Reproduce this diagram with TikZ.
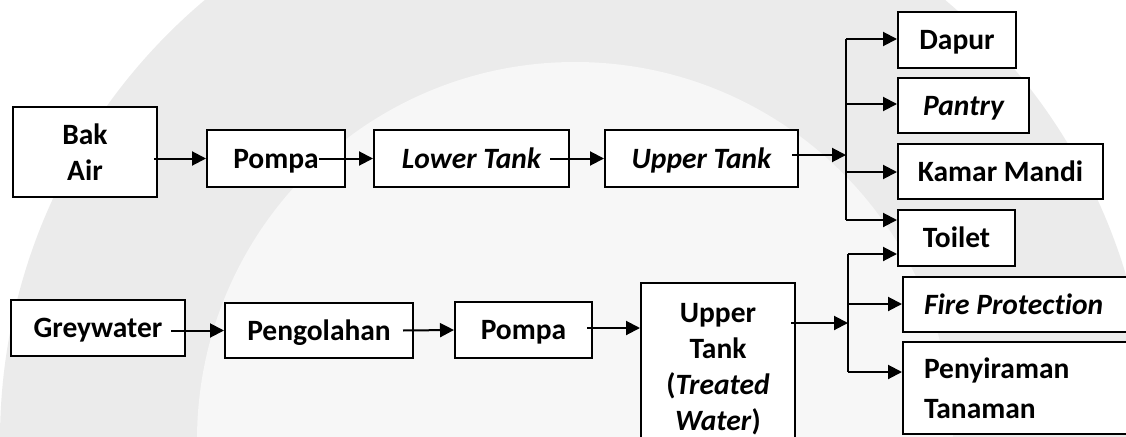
\documentclass[tikz,border=0pt]{standalone}
\usepackage{fontspec}
\setmainfont{Carlito}[RawFeature=-liga]
\usetikzlibrary{arrows.meta,calc}
\begin{document}
\begin{tikzpicture}[x=1pt,y=-1pt,
  box/.style={draw,line width=2pt,fill=white,inner sep=0pt,
    font=\fontsize{29.5}{36}\selectfont\bfseries,align=center},
  single/.style={text height=19pt,text depth=0pt},
  leftbox/.style={box,align=left,inner xsep=21pt,inner ysep=0pt,text width=196pt},
  arr/.style={line width=2pt,-{Triangle[length=14pt,width=14pt]}},
  bus/.style={line width=2pt}]
\useasboundingbox (0,0) rectangle (1126,436);
\clip (0,0) rectangle (1126,436);
% faint emblem ring in the background
\fill[black!8] (575,440) circle (575pt);
\fill[black!3] (575,440) circle (378pt);

% clean water chain
\node[box,minimum width=144pt,minimum height=90pt] (bak) at (85,152) {Bak\\Air};
\node[box,single,minimum width=138pt,minimum height=57pt] (pompa1) at (276,158.5) {Pompa};
\node[box,single,minimum width=195pt,minimum height=57pt] (lower) at (471.5,158.5) {\itshape Lower Tank};
\node[box,single,minimum width=193pt,minimum height=57pt] (upper) at (701.5,158.5) {\itshape Upper Tank};

\node[box,single,minimum width=118pt,minimum height=56pt] (dapur) at (957,40) {Dapur};
\node[box,single,minimum width=131pt,minimum height=55pt] (pantry) at (963.5,105.5) {\itshape Pantry};
\node[box,single,minimum width=205pt,minimum height=55pt] (kamar) at (1000.5,171.5) {Kamar Mandi};
\node[box,single,minimum width=117pt,minimum height=56pt] (toilet) at (956.5,238) {Toilet};

% greywater chain
\node[box,single,minimum width=174pt,minimum height=56pt] (grey) at (98,328) {Greywater};
\node[box,single,minimum width=188pt,minimum height=55pt] (peng) at (319,330.5) {Pengolahan};
\node[box,single,minimum width=137pt,minimum height=56pt] (pompa2) at (523.5,330) {Pompa};
\node[box,minimum width=154pt,minimum height=172pt] (utt) at (718,369) {Upper\\Tank\\(\textit{Treated}\\\textit{Water})};

\node[leftbox,single,minimum height=55pt,anchor=west] (fire) at (902,304.5) {\spaceskip=0pt\relax\itshape Fire Protection};
\node[leftbox,minimum height=92pt,anchor=west] (peny) at (902,388) {Penyiraman\\[4pt]Tanaman};

% connectors of the upper chain
\draw[arr] ($(bak.east|-pompa1.west)+(-4,0)$) -- (pompa1.west);
\draw[arr] ($(pompa1.east)+(-27,0)$) -- (lower.west);
\draw[arr] ($(lower.east)+(-20,0)$) -- (upper.west);
\coordinate (tj) at (846,155);
\draw[arr] ($(upper.east|-tj)+(-7,0)$) -- (tj);
\coordinate (t1) at (846,39);
\coordinate (t2) at (846,104);
\coordinate (t3) at (846,172);
\coordinate (t4) at (846,220);
\draw[bus] (t1) -- (t4);
\draw[arr] (t1) -- (t1-|dapur.west);
\draw[arr] (t2) -- (t2-|pantry.west);
\draw[arr] (t3) -- (t3-|kamar.west);
\draw[arr] (t4) -- (t4-|toilet.west);

% connectors of the greywater chain
\draw[arr] ($(grey.east|-peng.west)+(-15,0)$) -- (peng.west);
\draw[arr] ($(peng.east)+(-11,0)$) -- (pompa2.west);
\draw[arr] ($(pompa2.east)+(-6,-2)$) -- ($(pompa2.east-|utt.west)+(0,-2)$);
\coordinate (bj) at (848,323);
\draw[arr] ($(utt.east|-bj)+(-5,0)$) -- (bj);
\coordinate (b1) at (848,254);
\coordinate (b2) at (848,304);
\coordinate (b3) at (848,372);
\draw[bus] (b1) -- (b3);
\draw[arr] (b1) -- (b1-|toilet.west);
\draw[arr] (b2) -- (b2-|fire.west);
\draw[arr] (b3) -- (b3-|peny.west);
\end{tikzpicture}
\end{document}
